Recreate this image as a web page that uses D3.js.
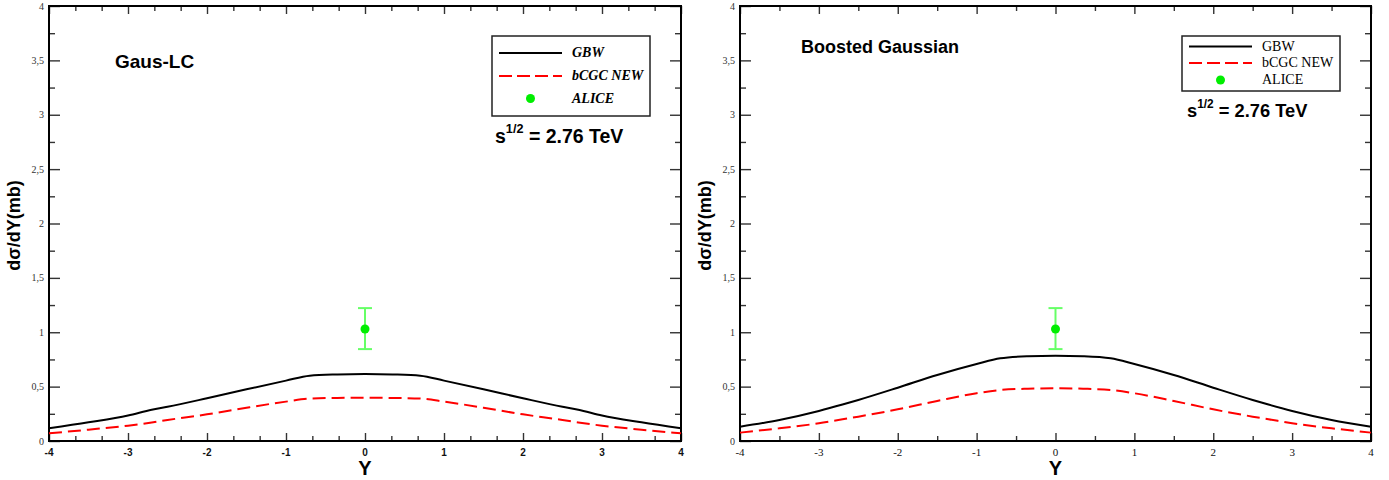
<!DOCTYPE html>
<html>
<head>
<meta charset="utf-8">
<script src="https://cdn.jsdelivr.net/npm/d3@7"></script>
<style>
  html, body { margin: 0; padding: 0; background: #fff; }
  svg { display: block; }
</style>
</head>
<body>
<svg id="chart" width="1389" height="480"></svg>
<script>
// Rapidity grid shared by all model curves
const rapidity = [-4, -3.5, -3, -2.7, -2.5, -2, -1.5, -1, -0.7, -0.35, 0, 0.35, 0.7, 1, 1.5, 2, 2.5, 2.7, 3, 3.5, 4];

// Gaus-LC wave function
const gausGBW  = [0.117, 0.172, 0.235, 0.288, 0.315, 0.393, 0.475, 0.555, 0.601, 0.612, 0.616, 0.612, 0.601, 0.555, 0.475, 0.393, 0.315, 0.288, 0.235, 0.172, 0.117];
const gausBCGC = [0.071, 0.104, 0.141, 0.170, 0.193, 0.245, 0.306, 0.362, 0.390, 0.396, 0.398, 0.396, 0.390, 0.362, 0.306, 0.245, 0.193, 0.170, 0.141, 0.104, 0.071];

// Boosted Gaussian wave function
const boostGBW  = [0.132, 0.193, 0.276, 0.335, 0.377, 0.490, 0.607, 0.708, 0.761, 0.780, 0.785, 0.780, 0.761, 0.708, 0.607, 0.490, 0.377, 0.335, 0.276, 0.193, 0.132];
const boostBCGC = [0.077, 0.117, 0.163, 0.200, 0.224, 0.291, 0.368, 0.439, 0.469, 0.481, 0.485, 0.481, 0.469, 0.439, 0.368, 0.291, 0.224, 0.200, 0.163, 0.117, 0.077];

// ALICE measurement: Y, value, lower and upper error bounds
const aliceY = [0];
const aliceValue = [1.03];
const aliceLow = [0.845];
const aliceHigh = [1.222];

// Axis ticks
const xTicks = [-4, -3, -2, -1, 0, 1, 2, 3, 4];
const yTicks = [0, 0.5, 1, 1.5, 2, 2.5, 3, 3.5, 4];
const yTickLabels = ["0", "0,5", "1", "1,5", "2", "2,5", "3", "3,5", "4"];

const seriesNames = ["GBW", "bCGC NEW", "ALICE"];
const panelTitles = ["Gaus-LC", "Boosted Gaussian"];
const energyLabel = ["s", "1/2", " = 2.76 TeV"];

const svg = d3.select("#chart");

const panels = [
  {
    left: 49, right: 681, top: 6, bottom: 441,
    title: panelTitles[0], titleX: 115, titleY: 68, titleSize: 19,
    gbw: gausGBW, bcgc: gausBCGC,
    xMinorStep: 1 / 3,
    xLabelStyle: { family: "Liberation Sans, Arial, sans-serif", weight: "bold", size: 10 },
    legend: { x: 492, y: 36, w: 158, h: 80, rows: [57, 80, 102.5], fontStyle: "italic", fontWeight: "bold", size: 14 },
    energy: { x: 495, y: 143, size: 19.5 }
  },
  {
    left: 740, right: 1371, top: 6, bottom: 441,
    title: panelTitles[1], titleX: 801, titleY: 53, titleSize: 18,
    gbw: boostGBW, bcgc: boostBCGC,
    xMinorStep: 0.5,
    xLabelStyle: { family: "Liberation Serif, Times New Roman, serif", weight: "normal", size: 11 },
    legend: { x: 1182, y: 36, w: 158, h: 55, rows: [50.5, 67, 84], fontStyle: "normal", fontWeight: "normal", size: 14 },
    energy: { x: 1187, y: 117, size: 18.3 }
  }
];

function range(a, b, step) {
  const out = [];
  const n = Math.round((b - a) / step);
  for (let i = 0; i <= n; i++) out.push(a + i * step);
  return out;
}

panels.forEach(p => {
  const g = svg.append("g");
  const x = d3.scaleLinear().domain([-4, 4]).range([p.left, p.right]);
  const y = d3.scaleLinear().domain([0, 4]).range([p.bottom, p.top]);
  const ih = p.bottom - p.top;
  const iw = p.right - p.left;

  // Minor and major ticks on all four sides, pointing inward
  const xMinor = range(-4, 4, p.xMinorStep).filter(v => Math.abs(v - Math.round(v)) > 1e-6);
  const yMinor = range(0, 4, 0.25).filter(v => Math.abs(v * 2 - Math.round(v * 2)) > 1e-6);

  const bottomMajor = d3.axisBottom(x).tickValues(xTicks).tickSizeInner(-8).tickSizeOuter(0).tickFormat("");
  const bottomMinor = d3.axisBottom(x).tickValues(xMinor).tickSizeInner(-5).tickSizeOuter(0).tickFormat("");
  const topMajor = d3.axisTop(x).tickValues(xTicks).tickSizeInner(-8).tickSizeOuter(0).tickFormat("");
  const topMinor = d3.axisTop(x).tickValues(xMinor).tickSizeInner(-5).tickSizeOuter(0).tickFormat("");
  const leftMajor = d3.axisLeft(y).tickValues(yTicks).tickSizeInner(-11).tickSizeOuter(0).tickFormat("");
  const leftMinor = d3.axisLeft(y).tickValues(yMinor).tickSizeInner(-6).tickSizeOuter(0).tickFormat("");
  const rightMajor = d3.axisRight(y).tickValues(yTicks).tickSizeInner(-11).tickSizeOuter(0).tickFormat("");
  const rightMinor = d3.axisRight(y).tickValues(yMinor).tickSizeInner(-6).tickSizeOuter(0).tickFormat("");

  [[bottomMajor, 0, p.bottom], [bottomMinor, 0, p.bottom], [topMajor, 0, p.top], [topMinor, 0, p.top],
   [leftMajor, p.left, 0], [leftMinor, p.left, 0], [rightMajor, p.right, 0], [rightMinor, p.right, 0]]
    .forEach(([ax, tx, ty]) => {
      const a = g.append("g").attr("transform", `translate(${tx},${ty})`).call(ax);
      a.select(".domain").remove();
      a.selectAll("line").attr("stroke", "#333").attr("stroke-width", 1.4);
    });

  // Frame
  g.append("rect")
    .attr("x", p.left).attr("y", p.top)
    .attr("width", iw).attr("height", ih)
    .attr("fill", "none").attr("stroke", "#000").attr("stroke-width", 2);

  // Tick labels
  g.append("g").selectAll("text").data(yTicks).join("text")
    .attr("x", p.left - 5).attr("y", d => y(d) + 3.5)
    .attr("text-anchor", "end")
    .attr("font-family", "Liberation Serif, Times New Roman, serif")
    .attr("font-size", 10).attr("fill", "#333")
    .text((d, i) => yTickLabels[i]);

  g.append("g").selectAll("text").data(xTicks).join("text")
    .attr("x", d => x(d)).attr("y", p.bottom + 15)
    .attr("text-anchor", "middle")
    .attr("font-family", p.xLabelStyle.family)
    .attr("font-weight", p.xLabelStyle.weight)
    .attr("font-size", p.xLabelStyle.size).attr("fill", "#111")
    .text(d => d);

  // Axis titles
  g.append("text")
    .attr("x", x(0)).attr("y", 475)
    .attr("text-anchor", "middle")
    .attr("font-family", "Liberation Sans, Arial, sans-serif")
    .attr("font-weight", "bold").attr("font-size", 20)
    .text("Y");

  g.append("text")
    .attr("transform", `translate(${p.left - 29},${(p.top + p.bottom) / 2 + 2}) rotate(-90)`)
    .attr("text-anchor", "middle")
    .attr("font-family", "Liberation Sans, Arial, sans-serif")
    .attr("font-weight", "bold").attr("font-size", 18)
    .text("dσ/dY(mb)");

  // Model curves
  const line = d3.line()
    .x((d, i) => x(rapidity[i]))
    .y(d => y(d))
    .curve(d3.curveMonotoneX);

  g.append("path").datum(p.gbw)
    .attr("d", line)
    .attr("fill", "none").attr("stroke", "#000").attr("stroke-width", 2);

  g.append("path").datum(p.bcgc)
    .attr("d", line)
    .attr("fill", "none").attr("stroke", "#ff0000").attr("stroke-width", 2)
    .attr("stroke-dasharray", "13,6");

  // ALICE point with error bar
  aliceY.forEach((yv, i) => {
    const cx = x(yv);
    const eb = g.append("g").attr("stroke", "#66ff66").attr("stroke-width", 2);
    eb.append("line").attr("x1", cx).attr("x2", cx).attr("y1", y(aliceLow[i])).attr("y2", y(aliceHigh[i]));
    eb.append("line").attr("x1", cx - 7).attr("x2", cx + 7).attr("y1", y(aliceLow[i])).attr("y2", y(aliceLow[i]));
    eb.append("line").attr("x1", cx - 7).attr("x2", cx + 7).attr("y1", y(aliceHigh[i])).attr("y2", y(aliceHigh[i]));
    g.append("circle").attr("cx", cx).attr("cy", y(aliceValue[i])).attr("r", 4.5).attr("fill", "#00ee00");
  });

  // Panel title
  g.append("text")
    .attr("x", p.titleX).attr("y", p.titleY)
    .attr("font-family", "Liberation Sans, Arial, sans-serif")
    .attr("font-weight", "bold").attr("font-size", p.titleSize)
    .text(p.title);

  // Legend
  const L = p.legend;
  const lg = g.append("g");
  lg.append("rect")
    .attr("x", L.x).attr("y", L.y).attr("width", L.w).attr("height", L.h)
    .attr("fill", "#fff").attr("stroke", "#222").attr("stroke-width", 1.5);
  const lx1 = L.x + 7, lx2 = L.x + 70, tx = L.x + 80;
  lg.append("line").attr("x1", lx1).attr("x2", lx2).attr("y1", L.rows[0] - 4).attr("y2", L.rows[0] - 4)
    .attr("stroke", "#000").attr("stroke-width", 2);
  lg.append("line").attr("x1", lx1).attr("x2", lx2).attr("y1", L.rows[1] - 4).attr("y2", L.rows[1] - 4)
    .attr("stroke", "#ff0000").attr("stroke-width", 2).attr("stroke-dasharray", "13,5");
  lg.append("circle").attr("cx", (lx1 + lx2) / 2).attr("cy", L.rows[2] - 4).attr("r", 4.5).attr("fill", "#00ee00");
  seriesNames.forEach((s, i) => {
    lg.append("text")
      .attr("x", tx).attr("y", L.rows[i])
      .attr("font-family", "Liberation Serif, Times New Roman, serif")
      .attr("font-style", L.fontStyle).attr("font-weight", L.fontWeight)
      .attr("font-size", L.size).attr("fill", "#000")
      .text(s);
  });

  // Collision energy label
  const E = p.energy;
  const et = g.append("text")
    .attr("x", E.x).attr("y", E.y)
    .attr("font-family", "Liberation Sans, Arial, sans-serif")
    .attr("font-weight", "bold").attr("font-size", E.size);
  et.append("tspan").text(energyLabel[0]);
  et.append("tspan").attr("dy", -E.size * 0.5).attr("font-size", E.size * 0.65).text(energyLabel[1]);
  et.append("tspan").attr("dy", E.size * 0.5).text(energyLabel[2]);
});
</script>
</body>
</html>
